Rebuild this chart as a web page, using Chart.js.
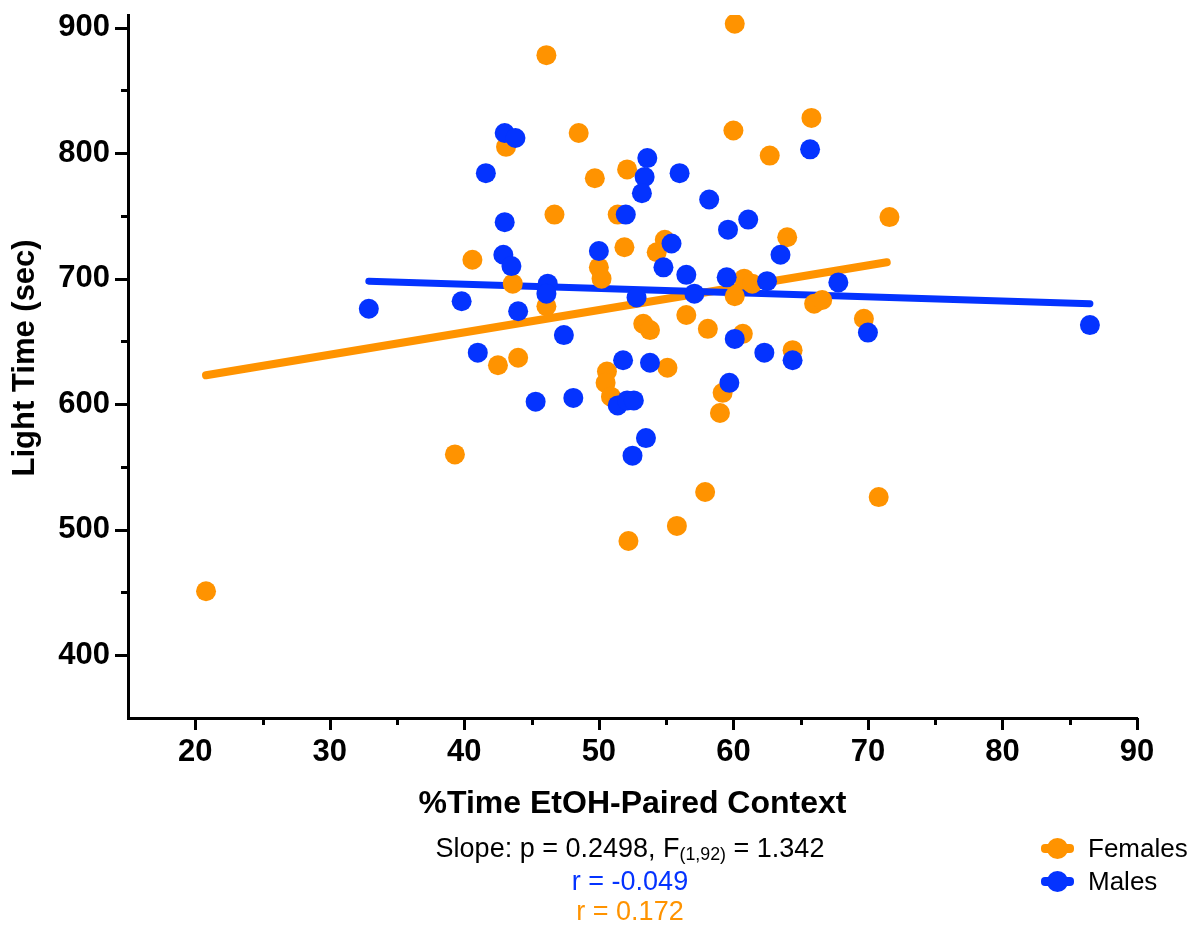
<!DOCTYPE html>
<html>
<head>
<meta charset="utf-8">
<title>Light Time vs %Time EtOH-Paired Context</title>
<script src="https://cdn.jsdelivr.net/npm/chart.js@4.4.1/dist/chart.umd.min.js"></script>
<style>
  html, body { margin: 0; padding: 0; background: #fff; }
  #wrap { position: relative; width: 1192px; height: 930px; }
  #chart { position: absolute; left: 0; top: 0; }
  .note {
    position: absolute; white-space: nowrap; line-height: 30px;
    font-family: "Liberation Sans", Arial, sans-serif; font-size: 27px; color: #000;
  }
  .centered { transform: translateX(-50%); }
  .note sub { font-size: 0.66em; vertical-align: -0.18em; }
  .legend-item { position: absolute; left: 1041px; height: 30px; }
  .legend-item .bar { position: absolute; left: 0; top: 11px; width: 33px; height: 9px; border-radius: 4px; }
  .legend-item .dot { position: absolute; left: 6px; top: 5px; width: 21px; height: 21px; border-radius: 50%; }
  .legend-item .label { left: 47px; top: 0; font-size: 26px; }
</style>
</head>
<body>
<div id="wrap">
  <canvas id="chart" width="1192" height="930"></canvas>
  <div class="note centered" style="left:630px; top:833px;">Slope: p = 0.2498, F<sub>(1,92)</sub> = 1.342</div>
  <div class="note centered" style="left:630px; top:866px; color:#0433FF;">r = -0.049</div>
  <div class="note centered" style="left:630px; top:896px; color:#FF9300;">r = 0.172</div>
  <div class="legend-item" style="top:833px;">
    <span class="bar" style="background:#FF9300"></span><span class="dot" style="background:#FF9300"></span>
    <span class="note label">Females</span>
  </div>
  <div class="legend-item" style="top:866px;">
    <span class="bar" style="background:#0433FF"></span><span class="dot" style="background:#0433FF"></span>
    <span class="note label">Males</span>
  </div>
</div>
<script>
// values
const femaleX = [20.8, 46.1, 60.1, 48.5, 43.1, 60.0, 62.7, 49.7, 52.1, 46.7, 51.4, 64.0, 40.6, 51.9, 54.9, 54.3,
                 50.0, 50.2, 43.6, 60.8, 61.4, 60.1, 46.1, 56.5, 58.1, 53.3, 53.8, 60.7, 42.5, 44.0, 64.4, 55.1,
                 50.6, 50.5, 50.9, 59.2, 59.0, 39.3, 57.9, 55.8, 52.2, 65.8, 71.6, 66.0, 66.6, 69.7, 70.8];
const femaleY = [451, 878, 903, 816, 805, 818, 798, 780, 787, 751, 751, 733, 715, 725, 731, 721,
                 709, 700, 696, 700, 696, 686, 678, 671, 660, 664, 659, 656, 631, 637, 643, 629,
                 626, 617, 606, 609, 593, 560, 530, 503, 491, 828, 749, 680, 683, 668, 526];

const maleX = [32.9, 43.0, 43.8, 41.6, 53.6, 53.4, 53.2, 56.0, 58.2, 43.0, 52.0, 61.1, 59.6, 50.0, 55.4, 63.5,
               42.9, 43.5, 54.8, 56.5, 59.5, 62.5, 46.2, 46.1, 39.8, 52.8, 57.1, 44.0, 47.4, 60.1, 41.0, 62.3,
               64.4, 51.8, 53.8, 59.7, 45.3, 48.1, 51.4, 52.1, 52.6, 53.5, 52.5, 65.7, 67.8, 70.0, 86.5];
const maleY = [676, 816, 812, 784, 796, 781, 768, 784, 763, 745, 751, 747, 739, 722, 728, 719,
               719, 710, 709, 703, 701, 698, 696, 688, 682, 685, 688, 674, 655, 652, 641, 641,
               635, 635, 633, 617, 602, 605, 599, 603, 603, 573, 559, 803, 697, 657, 663];

// regression line end points, as drawn in the reference
const femaleFitX = [20.8, 71.4];
const femaleFitY = [623, 713];
const maleFitX = [32.9, 86.5];
const maleFitY = [698, 680];

const xTicks = [20, 30, 40, 50, 60, 70, 80, 90];
const xMinorTicks = [25, 35, 45, 55, 65, 75, 85];
const yTicks = [400, 500, 600, 700, 800, 900];
const yMinorTicks = [450, 550, 650, 750, 850];

const ORANGE = '#FF9300';
const BLUE = '#0433FF';

const toPoints = (xs, ys) => xs.map((x, i) => ({ x: x, y: ys[i] }));

Chart.defaults.font.family = '"Liberation Sans", Arial, sans-serif';
Chart.defaults.color = '#000';

// major and minor tick marks drawn outside the axes
const tickMarks = {
  id: 'tickMarks',
  afterDraw(chart) {
    const { ctx, chartArea, scales } = chart;
    ctx.save();
    ctx.strokeStyle = '#000';
    ctx.lineWidth = 3;
    const xMark = (v, len) => {
      const px = Math.round(scales.x.getPixelForValue(v)) + 0.5;
      ctx.beginPath(); ctx.moveTo(px, chartArea.bottom); ctx.lineTo(px, chartArea.bottom + len); ctx.stroke();
    };
    const yMark = (v, len) => {
      const py = Math.round(scales.y.getPixelForValue(v)) + 0.5;
      ctx.beginPath(); ctx.moveTo(chartArea.left, py); ctx.lineTo(chartArea.left - len, py); ctx.stroke();
    };
    xTicks.forEach(v => xMark(v, 12));
    xMinorTicks.forEach(v => xMark(v, 7));
    yTicks.forEach(v => yMark(v, 13));
    yMinorTicks.forEach(v => yMark(v, 7));
    ctx.restore();
  }
};

new Chart(document.getElementById('chart'), {
  type: 'scatter',
  data: {
    datasets: [
      { label: 'Females fit', data: toPoints(femaleFitX, femaleFitY), showLine: true, borderColor: ORANGE,
        borderWidth: 8, borderCapStyle: 'round', pointRadius: 0, order: 4 },
      { label: 'Males fit', data: toPoints(maleFitX, maleFitY), showLine: true, borderColor: BLUE,
        borderWidth: 7, borderCapStyle: 'round', pointRadius: 0, order: 3 },
      { label: 'Females', data: toPoints(femaleX, femaleY), backgroundColor: ORANGE, borderWidth: 0,
        pointRadius: 10, order: 2 },
      { label: 'Males', data: toPoints(maleX, maleY), backgroundColor: BLUE, borderWidth: 0,
        pointRadius: 10, order: 1 }
    ]
  },
  options: {
    responsive: false,
    animation: false,
    layout: { padding: { left: 0, right: 55, top: 15, bottom: 0 } },
    plugins: { legend: { display: false }, tooltip: { enabled: false } },
    scales: {
      x: {
        type: 'linear', min: 15, max: 90,
        afterBuildTicks: s => { s.ticks = xTicks.map(v => ({ value: v })); },
        afterFit: s => { s.height = 212; s.paddingLeft = 0; s.paddingRight = 0; },
        grid: { display: false, drawTicks: false },
        border: { display: true, color: '#000', width: 3 },
        ticks: { autoSkip: false, maxRotation: 0, padding: 16, font: { size: 31, weight: 'bold' } },
        title: { display: true, text: '%Time EtOH-Paired Context', font: { size: 32, weight: 'bold' },
                 padding: { top: 0, bottom: 107 } }
      },
      y: {
        type: 'linear', min: 350, max: 910,
        afterBuildTicks: s => { s.ticks = yTicks.map(v => ({ value: v })); },
        afterFit: s => { s.width = 128; s.paddingTop = 0; s.paddingBottom = 0; },
        grid: { display: false, drawTicks: false },
        border: { display: true, color: '#000', width: 3 },
        ticks: { autoSkip: false, padding: 18, font: { size: 31, weight: 'bold' } },
        title: { display: true, text: '  Light Time (sec)', font: { size: 31, weight: 'bold' },
                 padding: { top: 7, bottom: 0 } }
      }
    }
  },
  plugins: [tickMarks]
});
</script>
</body>
</html>
